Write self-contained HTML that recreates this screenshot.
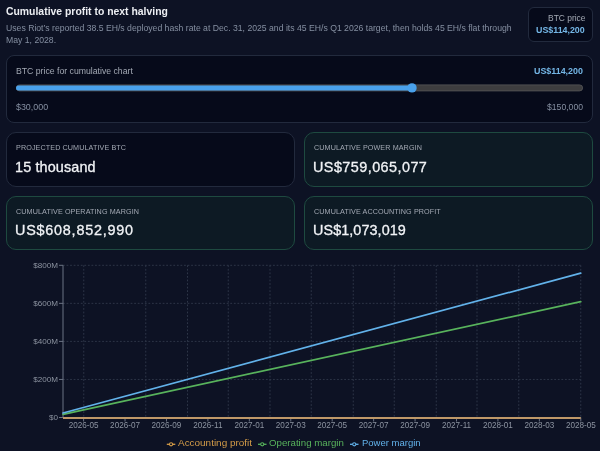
<!DOCTYPE html>
<html><head><meta charset="utf-8"><style>
html,body{margin:0;padding:0;width:600px;height:451px;overflow:hidden;background:#0d1224;}
body{position:relative;font-family:"Liberation Sans",sans-serif;}
.t{position:absolute;white-space:nowrap;line-height:1;will-change:transform;}
.b{position:absolute;box-sizing:border-box;}
svg text{font-family:"Liberation Sans",sans-serif;}
</style></head><body>
<div class="t" style="left:6.00px;top:6.88px;font-size:10.42px;color:#eceef2;font-weight:700;letter-spacing:0px;">Cumulative profit to next halving</div>
<div class="t" style="left:6.00px;top:24.27px;font-size:8.66px;color:#858fa1;font-weight:400;letter-spacing:0px;">Uses Riot&#8217;s reported 38.5 EH/s deployed hash rate at Dec. 31, 2025 and its 45 EH/s Q1 2026 target, then holds 45 EH/s flat through</div>
<div class="t" style="left:6.00px;top:35.57px;font-size:8.66px;color:#858fa1;font-weight:400;letter-spacing:0px;">May 1, 2028.</div>
<div class="b" style="left:528px;top:7px;width:65px;height:34.7px;background:#060a1a;border:1px solid #222a3d;border-radius:6px"></div>
<div class="t" style="right:14.50px;text-align:right;top:14.35px;font-size:8.45px;color:#a3a9b4;font-weight:400;letter-spacing:0px;">BTC price</div>
<div class="t" style="right:15.00px;text-align:right;top:26.21px;font-size:8.85px;color:#74b6e6;font-weight:700;letter-spacing:0px;">US$114,200</div>
<div class="b" style="left:6px;top:55px;width:587px;height:68px;background:#060a1a;border:1px solid #222a3d;border-radius:8px"></div>
<div class="t" style="left:16.00px;top:67.44px;font-size:8.7px;color:#a3a9b4;font-weight:400;letter-spacing:0px;">BTC price for cumulative chart</div>
<div class="t" style="right:17.00px;text-align:right;top:67.27px;font-size:8.9px;color:#74b6e6;font-weight:700;letter-spacing:0px;">US$114,200</div>
<svg class="b" style="left:0;top:0" width="600" height="130" viewBox="0 0 600 130"><rect x="16.4" y="84.9" width="566.2" height="6" rx="3" fill="#3d3d3f" stroke="#545456" stroke-width="0.9"/><rect x="16" y="85.4" width="396" height="5" rx="2.5" fill="#49a1eb"/><circle cx="412" cy="87.9" r="4.7" fill="#49a1eb"/></svg>
<div class="t" style="left:16.00px;top:102.77px;font-size:8.9px;color:#858fa1;font-weight:400;letter-spacing:0px;">$30,000</div>
<div class="t" style="right:17.00px;text-align:right;top:102.99px;font-size:8.63px;color:#858fa1;font-weight:400;letter-spacing:0px;">$150,000</div>
<div class="b" style="left:6px;top:132px;width:288.5px;height:55px;background:#060a1a;border:1px solid #222a3d;border-radius:10px"></div>
<div class="t" style="left:16.00px;top:144.11px;font-size:7.2px;color:#a3a9b4;font-weight:400;letter-spacing:0.1px;">PROJECTED CUMULATIVE BTC</div>
<div class="t" style="left:15.20px;top:159.91px;font-size:14.4px;color:#f1f3f6;font-weight:400;letter-spacing:0.14px;-webkit-text-stroke:0.3px #f1f3f6;">15 thousand</div>
<div class="b" style="left:304.2px;top:132px;width:288.8px;height:55px;background:#0d1a24;border:1px solid #1e4a40;border-radius:10px"></div>
<div class="t" style="left:314.20px;top:144.11px;font-size:7.2px;color:#a3a9b4;font-weight:400;letter-spacing:0.1px;">CUMULATIVE POWER MARGIN</div>
<div class="t" style="left:313.40px;top:159.91px;font-size:14.4px;color:#f1f3f6;font-weight:400;letter-spacing:0.45px;-webkit-text-stroke:0.3px #f1f3f6;">US$759,065,077</div>
<div class="b" style="left:6px;top:196px;width:288.5px;height:54px;background:#0d1a24;border:1px solid #1e4a40;border-radius:10px"></div>
<div class="t" style="left:16.00px;top:207.71px;font-size:7.2px;color:#a3a9b4;font-weight:400;letter-spacing:0.1px;">CUMULATIVE OPERATING MARGIN</div>
<div class="t" style="left:15.20px;top:223.01px;font-size:14.4px;color:#f1f3f6;font-weight:400;letter-spacing:0.77px;-webkit-text-stroke:0.3px #f1f3f6;">US$608,852,990</div>
<div class="b" style="left:304.2px;top:196px;width:288.8px;height:54px;background:#0d1a24;border:1px solid #1e4a40;border-radius:10px"></div>
<div class="t" style="left:314.20px;top:207.71px;font-size:7.2px;color:#a3a9b4;font-weight:400;letter-spacing:0.1px;">CUMULATIVE ACCOUNTING PROFIT</div>
<div class="t" style="left:313.40px;top:223.01px;font-size:14.4px;color:#f1f3f6;font-weight:400;letter-spacing:0.07px;-webkit-text-stroke:0.3px #f1f3f6;">US$1,073,019</div>
<svg class="b" style="left:0;top:0" width="600" height="451" viewBox="0 0 600 451">
<line x1="83.75" y1="265.3" x2="83.75" y2="417.5" stroke="#2d3547" stroke-width="1" stroke-dasharray="1.78 1.78"/>
<line x1="145.75" y1="265.3" x2="145.75" y2="417.5" stroke="#2d3547" stroke-width="1" stroke-dasharray="1.78 1.78"/>
<line x1="187.5" y1="265.3" x2="187.5" y2="417.5" stroke="#2d3547" stroke-width="1" stroke-dasharray="1.78 1.78"/>
<line x1="228.25" y1="265.3" x2="228.25" y2="417.5" stroke="#2d3547" stroke-width="1" stroke-dasharray="1.78 1.78"/>
<line x1="270" y1="265.3" x2="270" y2="417.5" stroke="#2d3547" stroke-width="1" stroke-dasharray="1.78 1.78"/>
<line x1="311.25" y1="265.3" x2="311.25" y2="417.5" stroke="#2d3547" stroke-width="1" stroke-dasharray="1.78 1.78"/>
<line x1="353.25" y1="265.3" x2="353.25" y2="417.5" stroke="#2d3547" stroke-width="1" stroke-dasharray="1.78 1.78"/>
<line x1="394.25" y1="265.3" x2="394.25" y2="417.5" stroke="#2d3547" stroke-width="1" stroke-dasharray="1.78 1.78"/>
<line x1="436.25" y1="265.3" x2="436.25" y2="417.5" stroke="#2d3547" stroke-width="1" stroke-dasharray="1.78 1.78"/>
<line x1="477" y1="265.3" x2="477" y2="417.5" stroke="#2d3547" stroke-width="1" stroke-dasharray="1.78 1.78"/>
<line x1="518.75" y1="265.3" x2="518.75" y2="417.5" stroke="#2d3547" stroke-width="1" stroke-dasharray="1.78 1.78"/>
<line x1="580.75" y1="265.3" x2="580.75" y2="417.5" stroke="#2d3547" stroke-width="1" stroke-dasharray="1.78 1.78"/>
<line x1="63" y1="265.30" x2="580.75" y2="265.30" stroke="#2d3547" stroke-width="1" stroke-dasharray="1.78 1.78"/>
<line x1="63" y1="303.35" x2="580.75" y2="303.35" stroke="#2d3547" stroke-width="1" stroke-dasharray="1.78 1.78"/>
<line x1="63" y1="341.40" x2="580.75" y2="341.40" stroke="#2d3547" stroke-width="1" stroke-dasharray="1.78 1.78"/>
<line x1="63" y1="379.45" x2="580.75" y2="379.45" stroke="#2d3547" stroke-width="1" stroke-dasharray="1.78 1.78"/>
<line x1="63" y1="265.3" x2="63" y2="417.5" stroke="#6b7383" stroke-width="1"/>
<line x1="63" y1="417.5" x2="580.75" y2="417.5" stroke="#6b7383" stroke-width="1"/>
<line x1="59" y1="265.30" x2="63" y2="265.30" stroke="#6b7383" stroke-width="1"/>
<text x="58" y="267.90" text-anchor="end" font-size="8.1" fill="#8c93a0">$800M</text>
<line x1="59" y1="303.35" x2="63" y2="303.35" stroke="#6b7383" stroke-width="1"/>
<text x="58" y="305.95" text-anchor="end" font-size="8.1" fill="#8c93a0">$600M</text>
<line x1="59" y1="341.40" x2="63" y2="341.40" stroke="#6b7383" stroke-width="1"/>
<text x="58" y="344.00" text-anchor="end" font-size="8.1" fill="#8c93a0">$400M</text>
<line x1="59" y1="379.45" x2="63" y2="379.45" stroke="#6b7383" stroke-width="1"/>
<text x="58" y="382.05" text-anchor="end" font-size="8.1" fill="#8c93a0">$200M</text>
<line x1="59" y1="417.50" x2="63" y2="417.50" stroke="#6b7383" stroke-width="1"/>
<text x="58" y="420.10" text-anchor="end" font-size="8.1" fill="#8c93a0">$0</text>
<line x1="83.60" y1="417.5" x2="83.60" y2="421.5" stroke="#6b7383" stroke-width="1"/>
<text x="83.60" y="428" text-anchor="middle" font-size="8.15" fill="#8c93a0">2026-05</text>
<line x1="125.03" y1="417.5" x2="125.03" y2="421.5" stroke="#6b7383" stroke-width="1"/>
<text x="125.03" y="428" text-anchor="middle" font-size="8.15" fill="#8c93a0">2026-07</text>
<line x1="166.47" y1="417.5" x2="166.47" y2="421.5" stroke="#6b7383" stroke-width="1"/>
<text x="166.47" y="428" text-anchor="middle" font-size="8.15" fill="#8c93a0">2026-09</text>
<line x1="207.90" y1="417.5" x2="207.90" y2="421.5" stroke="#6b7383" stroke-width="1"/>
<text x="207.90" y="428" text-anchor="middle" font-size="8.15" fill="#8c93a0">2026-11</text>
<line x1="249.33" y1="417.5" x2="249.33" y2="421.5" stroke="#6b7383" stroke-width="1"/>
<text x="249.33" y="428" text-anchor="middle" font-size="8.15" fill="#8c93a0">2027-01</text>
<line x1="290.77" y1="417.5" x2="290.77" y2="421.5" stroke="#6b7383" stroke-width="1"/>
<text x="290.77" y="428" text-anchor="middle" font-size="8.15" fill="#8c93a0">2027-03</text>
<line x1="332.20" y1="417.5" x2="332.20" y2="421.5" stroke="#6b7383" stroke-width="1"/>
<text x="332.20" y="428" text-anchor="middle" font-size="8.15" fill="#8c93a0">2027-05</text>
<line x1="373.63" y1="417.5" x2="373.63" y2="421.5" stroke="#6b7383" stroke-width="1"/>
<text x="373.63" y="428" text-anchor="middle" font-size="8.15" fill="#8c93a0">2027-07</text>
<line x1="415.07" y1="417.5" x2="415.07" y2="421.5" stroke="#6b7383" stroke-width="1"/>
<text x="415.07" y="428" text-anchor="middle" font-size="8.15" fill="#8c93a0">2027-09</text>
<line x1="456.50" y1="417.5" x2="456.50" y2="421.5" stroke="#6b7383" stroke-width="1"/>
<text x="456.50" y="428" text-anchor="middle" font-size="8.15" fill="#8c93a0">2027-11</text>
<line x1="497.93" y1="417.5" x2="497.93" y2="421.5" stroke="#6b7383" stroke-width="1"/>
<text x="497.93" y="428" text-anchor="middle" font-size="8.15" fill="#8c93a0">2028-01</text>
<line x1="539.37" y1="417.5" x2="539.37" y2="421.5" stroke="#6b7383" stroke-width="1"/>
<text x="539.37" y="428" text-anchor="middle" font-size="8.15" fill="#8c93a0">2028-03</text>
<line x1="580.80" y1="417.5" x2="580.80" y2="421.5" stroke="#6b7383" stroke-width="1"/>
<text x="580.80" y="428" text-anchor="middle" font-size="8.15" fill="#8c93a0">2028-05</text>
<line x1="63" y1="417.9" x2="580.75" y2="417.9" stroke="#bf9868" stroke-width="2"/>
<line x1="63" y1="414.3" x2="580.75" y2="301.7" stroke="#58b35c" stroke-width="1.7" stroke-linecap="round"/>
<line x1="63" y1="413" x2="580.75" y2="273.1" stroke="#62b2ea" stroke-width="1.7" stroke-linecap="round"/>
<line x1="166.8" y1="444.3" x2="175.3" y2="444.3" stroke="#d49c48" stroke-width="1.3"/>
<circle cx="171.05" cy="444.3" r="1.6" fill="#0d1224" stroke="#d49c48" stroke-width="1.1"/>
<line x1="258" y1="444.3" x2="266.5" y2="444.3" stroke="#58b35c" stroke-width="1.3"/>
<circle cx="262.25" cy="444.3" r="1.6" fill="#0d1224" stroke="#58b35c" stroke-width="1.1"/>
<line x1="350" y1="444.3" x2="358.5" y2="444.3" stroke="#62b2ea" stroke-width="1.3"/>
<circle cx="354.25" cy="444.3" r="1.6" fill="#0d1224" stroke="#62b2ea" stroke-width="1.1"/>
</svg>
<div class="t" style="left:178.00px;top:438.08px;font-size:9.95px;color:#d49c48;font-weight:400;letter-spacing:0px;">Accounting profit</div>
<div class="t" style="left:269.20px;top:438.29px;font-size:9.7px;color:#58b35c;font-weight:400;letter-spacing:0px;">Operating margin</div>
<div class="t" style="left:361.70px;top:438.46px;font-size:9.5px;color:#62b2ea;font-weight:400;letter-spacing:0px;">Power margin</div>
</body></html>
